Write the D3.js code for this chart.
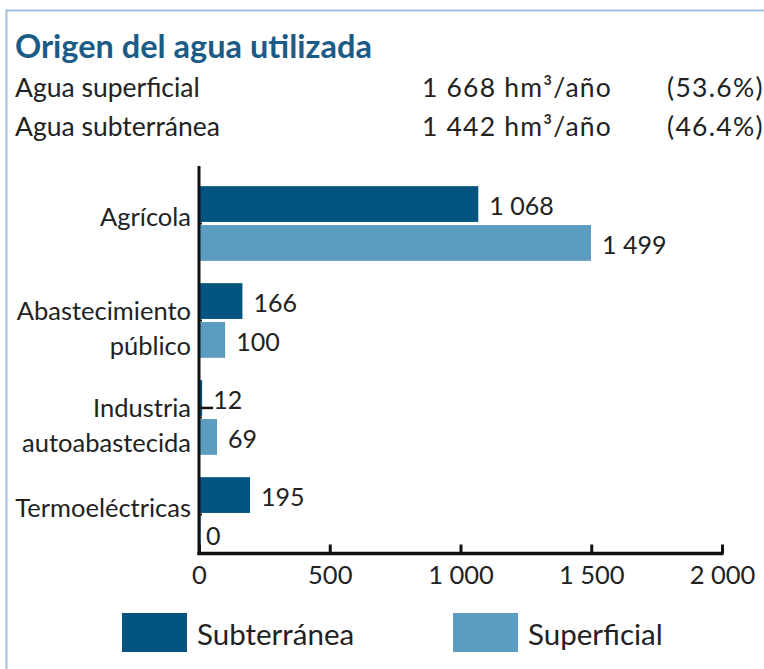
<!DOCTYPE html>
<html>
<head>
<meta charset="utf-8">
<script src="https://cdn.jsdelivr.net/npm/d3@7"></script>
<style>
  body { margin: 0; background: #fff; }
  svg { display: block; font-family: Lato, "Open Sans", sans-serif; }
</style>
</head>
<body>
<svg width="764" height="669"></svg>
<script>
// Datos
const categorias = [["Agrícola"], ["Abastecimiento", "público"], ["Industria", "autoabastecida"], ["Termoeléctricas"]];
const series = ["Subterránea", "Superficial"];
const subterranea = [1068, 166, 12, 195];
const superficial = [1499, 100, 69, 0];
const ticks = [0, 500, 1000, 1500, 2000];
const resumen = ["Agua superficial", "Agua subterránea"];
const resumenValor = [1668, 1442];
const resumenPct = ["(53.6%)", "(46.4%)"];

const colores = ["#03557f", "#5b9cc0"];
const fmt = d3.formatLocale({ decimal: ".", thousands: " ", grouping: [3], currency: ["", ""] }).format(",d");

const svg = d3.select("svg");

// Marco
svg.append("path").attr("d", "M6.5,669 V10.5 H764").attr("fill", "none").attr("stroke", "#a3bde0").attr("stroke-width", 2);

// Título
svg.append("text").attr("x", 15).attr("y", 58).attr("fill", "#1b5c86")
  .attr("font-size", 32.5).attr("font-weight", "bold")
  .text("Origen del agua utilizada");

const filas = svg.selectAll("g.fila").data(resumen).enter().append("g")
  .attr("transform", (d, i) => `translate(0, ${97 + i * 39})`)
  .attr("font-size", 26.5).attr("fill", "#222");
filas.append("text").attr("x", 15).text(d => d);
filas.append("text").attr("x", 422).attr("letter-spacing", 1.2).text((d, i) => fmt(resumenValor[i]) + " hm³/año");
filas.append("text").attr("x", 667).attr("letter-spacing", 1.3).text((d, i) => resumenPct[i]);

// Escalas
const x = d3.scaleLinear().domain([0, 2000]).range([199, 722]);
const y = d3.scaleBand().domain(d3.range(categorias.length)).range([175, 563]).paddingInner(0.23).paddingOuter(0.115);
const ySub = d3.scaleBand().domain(series).range([0, y.bandwidth()]).paddingInner(0.08);

const datos = categorias.map((c, i) => ({ i, vals: [subterranea[i], superficial[i]] }));

const grupo = svg.selectAll("g.cat").data(datos).enter().append("g")
  .attr("class", "cat").attr("transform", d => `translate(0, ${y(d.i)})`);

grupo.selectAll("rect").data(d => d.vals.map((v, k) => ({ v, k }))).enter().append("rect")
  .attr("x", x(0)).attr("y", d => ySub(series[d.k]))
  .attr("width", d => Math.max(x(d.v) - x(0), 2))
  .attr("height", ySub.bandwidth())
  .attr("fill", d => colores[d.k]);

grupo.selectAll("text.valor").data(d => d.vals.map((v, k) => ({ v, k }))).enter().append("text")
  .attr("class", "valor")
  .attr("x", d => x(d.v) + (d.v === 0 ? 7 : 11))
  .attr("y", d => ySub(series[d.k]) + ySub.bandwidth() / 2 + 11)
  .attr("font-size", 25).attr("fill", "#222")
  .text(d => fmt(d.v));

// Línea guía para el valor pequeño
grupo.filter(d => d.vals[0] < 20).append("line")
  .attr("x1", x(0)).attr("x2", d => x(d.vals[0]) + 11)
  .attr("y1", ySub(series[0]) + ySub.bandwidth() - 8).attr("y2", ySub(series[0]) + ySub.bandwidth() - 8)
  .attr("stroke", "#111").attr("stroke-width", 2.5);

// Etiquetas de categorías
const desp = { 1: [3], 2: [0, 35] };
grupo.append("text").attr("text-anchor", "end").attr("font-size", 25.5).attr("fill", "#222")
  .selectAll("tspan").data(d => categorias[d.i].map((t, j) => ({ t, j, n: categorias[d.i].length }))).enter()
  .append("tspan").attr("x", 191)
  .attr("y", d => y.bandwidth() / 2 + desp[d.n][d.j])
  .text(d => d.t);

// Marcas pequeñas en el eje Y
grupo.append("line").attr("x1", 199).attr("x2", 202)
  .attr("y1", y.bandwidth() / 2).attr("y2", y.bandwidth() / 2)
  .attr("stroke", "#111").attr("stroke-width", 2);

// Eje X
const ejeX = svg.append("g").attr("transform", "translate(0, 553.5)")
  .call(d3.axisBottom(x).tickValues(ticks).tickSize(-9).tickFormat(fmt));
ejeX.select(".domain").attr("d", `M${x(0) - 1.5},0H${x(2000) + 1.5}`).attr("stroke", "#111").attr("stroke-width", 3.5);
ejeX.selectAll(".tick line").attr("stroke", "#111").attr("stroke-width", 3);
ejeX.selectAll(".tick text").attr("y", 30).attr("dy", 0)
  .attr("font-size", 25.5).attr("fill", "#222").attr("font-family", "Lato, sans-serif");

// Eje Y
svg.append("line").attr("x1", 199).attr("x2", 199).attr("y1", 166).attr("y2", 555)
  .attr("stroke", "#111").attr("stroke-width", 3);

// Leyenda
const leyenda = svg.selectAll("g.ley").data(series).enter().append("g")
  .attr("transform", (d, i) => `translate(${[122, 453][i]}, 613)`);
leyenda.append("rect").attr("width", 65).attr("height", 39).attr("fill", (d, i) => colores[i]);
leyenda.append("text").attr("x", 75).attr("y", 32).attr("font-size", 29.5).attr("fill", "#222").text(d => d);
</script>
</body>
</html>
